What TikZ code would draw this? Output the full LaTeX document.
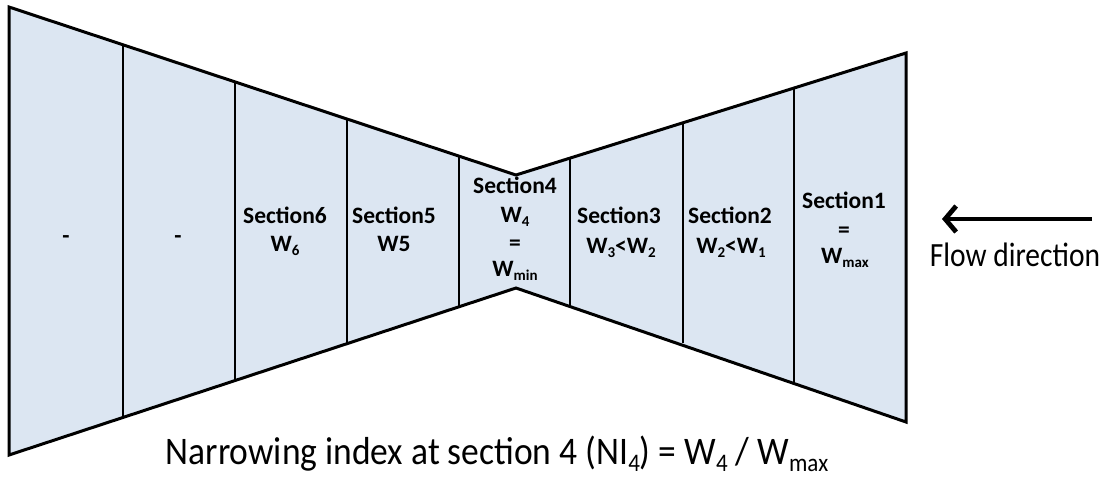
\documentclass[tikz,border=0pt]{standalone}
\usepackage{fontspec}
\setmainfont{Carlito}
\usetikzlibrary{arrows.meta}
\definecolor{secfill}{HTML}{DCE6F2}
\newcommand{\lsub}[1]{\raisebox{-4.5pt}{\fontsize{15}{15}\selectfont #1}}
\newcommand{\bsub}[1]{\raisebox{-7pt}{\fontsize{23}{23}\selectfont #1}}
\begin{document}
\begin{tikzpicture}[x=1pt,y=-1pt,
  outline/.style={line width=3pt, line join=miter},
  divider/.style={line width=2.8pt},
  lbl/.style={font=\fontsize{23.5}{28}\selectfont\bfseries, anchor=base, inner sep=0pt},
  big/.style={font=\fontsize{35.5}{40}\selectfont, anchor=base, inner sep=0pt},
  flow/.style={font=\fontsize{29.5}{32}\selectfont, anchor=base, inner sep=0pt},
  flowarrow/.style={line width=4.8pt, -{Straight Barb[length=11pt,width=26pt]}}]
\useasboundingbox (0,0) rectangle (1110,477);
% outline coordinates
\coordinate (t0) at (9,7);     \coordinate (b0) at (9,455);
\coordinate (t1) at (123,45);  \coordinate (b1) at (123,417);
\coordinate (t2) at (235,82);  \coordinate (b2) at (235,380);
\coordinate (t3) at (347,119); \coordinate (b3) at (347,343);
\coordinate (t4) at (459,156); \coordinate (b4) at (459,306);
\coordinate (ta) at (516,175); \coordinate (ba) at (516,288);
\coordinate (t5) at (570,158); \coordinate (b5) at (570,306);
\coordinate (t6) at (683,123); \coordinate (b6) at (683,343);
\coordinate (t7) at (794,87);  \coordinate (b7) at (794,383);
\coordinate (t8) at (906,53);  \coordinate (b8) at (906,422);
\fill[secfill] (t0) -- (ta) -- (t8) -- (b8) -- (ba) -- (b0) -- cycle;
\foreach \i in {1,...,7} {\draw[divider] (t\i) -- (b\i);}
\draw[outline] (t0) -- (ta) -- (t8) -- (b8) -- (ba) -- (b0) -- cycle;
% labels
\node[lbl] (d1) at (66,243) {-};
\node[lbl] (d2) at (178,243) {-};
\node[lbl] (s6a) at (285,223) {Section6};
\node[lbl] (s6b) at (285,251) {W\lsub{6}};
\node[lbl] (s5a) at (394,223) {Section5};
\node[lbl] (s5b) at (394,251) {W5};
\node[lbl] (s4a) at (515,193) {Section4};
\node[lbl] (s4b) at (515,222) {W\lsub{4}};
\node[lbl] (s4c) at (515,250) {=};
\node[lbl] (s4d) at (515,276) {W\lsub{min}};
\node[lbl] (s3a) at (619,223) {Section3};
\node[lbl] (s3b) at (621,253) {W\lsub{3}<W\lsub{2}};
\node[lbl] (s2a) at (730,223) {Section2};
\node[lbl] (s2b) at (731,253) {W\lsub{2}<W\lsub{1}};
\node[lbl] (s1a) at (844,208) {Section1};
\node[lbl] (s1b) at (844,237) {=};
\node[lbl] (s1c) at (845,263) {W\lsub{max}};
% flow arrow
\coordinate (fa0) at (1092,219);
\coordinate (fa1) at (942,219);
\draw[flowarrow] (fa0) -- (fa1);
\node[flow] (fd) at (1015,266) {\scalebox{1}[1.15]{Flow direction}};
% caption
\node[big] (cap) at (497,464) {\scalebox{1}[1.1]{Narrowing index at section 4 (NI\bsub{4}) = W\bsub{4} / W\bsub{max}}};
\end{tikzpicture}
\end{document}
